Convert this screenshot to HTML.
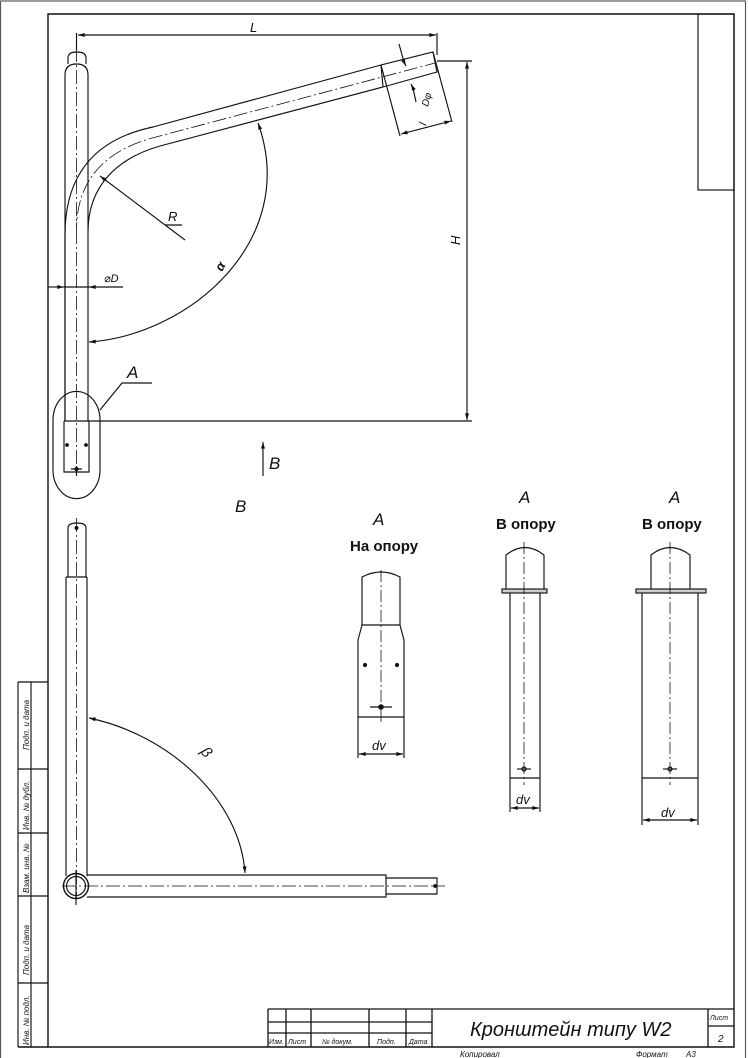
<!DOCTYPE html>
<html><head><meta charset="utf-8"><style>
html,body{margin:0;padding:0;background:#fff}
svg{display:block}
text{font-family:"Liberation Sans","DejaVu Sans",sans-serif;fill:#111}
.it{font-style:italic}
</style></head><body>
<svg width="748" height="1058" viewBox="0 0 748 1058" xmlns="http://www.w3.org/2000/svg">
<defs>
<marker id="ar" viewBox="0 0 10 6" refX="10" refY="3" markerWidth="10" markerHeight="4" orient="auto-start-reverse" markerUnits="userSpaceOnUse"><path d="M0,0 L10,3 L0,6 z" fill="#111"/></marker>
</defs>
<g fill="none" stroke="#111" stroke-width="1.15">
<rect x="0.5" y="1" width="745" height="1060" stroke="#555"/>
<path d="M48,14 H734 V1047 H48 Z" stroke-width="1.4"/>
<path d="M18,1047 H48" stroke-width="1.4"/>
<rect x="698" y="14" width="36" height="176"/>
<path d="M18,682 H48 M18,682 V1047 M31,682 V1047 M18,769 H48 M18,833 H48 M18,896 H48 M18,983 H48"/>
<path d="M268,1009 H734 M268,1009 V1047 M268,1022 H432 M268,1033 H432 M286,1009 V1047 M311,1009 V1047 M369,1009 V1047 M406,1009 V1047 M432,1009 V1047 M708,1009 V1047 M708,1026 H734" stroke-width="1.3"/>

<path d="M65,421 V235 C65,170 100,138 153,127 L381,65"/>
<path d="M88,421 V232 C88,185 118,158 160,146 L383,87"/>
<path d="M65,421 V75 Q65,64 76.5,64 Q88,64 88,75 V230"/>
<path d="M68,64 V58 Q68,52 77,52 Q86,52 86,58 V64"/>
<path d="M76.5,48 V230 C76.5,180 105,150 156,137 L435,63" stroke-dasharray="14,3,2,3" stroke-width="0.8"/>
<path d="M76.5,230 V470" stroke-dasharray="14,3,2,3" stroke-width="0.8"/>
<path d="M381,65 L433,52 L437,72 L383,87 M381,65 L383,87"/>
<path d="M64,421 H89 M64,421 L64,472 H89 V421 M76.5,466 v10 M71,469 h11"/>
<circle cx="67" cy="445" r="1.3" fill="#111"/><circle cx="86" cy="445" r="1.3" fill="#111"/><circle cx="76.5" cy="469" r="1.6" fill="#111"/>
<path d="M53,420 A23,28 0 0 1 100,420 V470 A23,28 0 0 1 53,470 Z"/>
<path d="M100,410 L122,383 H152"/>
<path d="M78,35 H436" marker-start="url(#ar)" marker-end="url(#ar)"/>
<path d="M76.5,33 V50 M437,33 V55"/>
<path d="M437,61 H472 M89,421 H472"/>
<path d="M467,62 V420" marker-start="url(#ar)" marker-end="url(#ar)"/>
<path d="M381,65 L400,136 M433,52 L452,122"/>
<path d="M401,134 L451,121" marker-start="url(#ar)" marker-end="url(#ar)"/>
<path d="M399,44 L404,62 M413,88 L416,102"/>
<path d="M404,62 L406,66" marker-end="url(#ar)"/>
<path d="M413,88 L411,84" marker-end="url(#ar)"/>
<path d="M185,240 L100,176" marker-end="url(#ar)"/>
<path d="M165,225 H182"/>
<path d="M258,123 C300,240 190,335 89,342" marker-start="url(#ar)" marker-end="url(#ar)"/>
<path d="M48,287 H64" marker-end="url(#ar)"/>
<path d="M123,287 H89" marker-end="url(#ar)"/>
<path d="M64,287 H89"/>
<path d="M263,476 V442" marker-end="url(#ar)"/>

<path d="M68,577 V528 Q68,523 77,523 Q86,523 86,528 V577"/>
<path d="M66,577 H87 M66,577 V876 M87,577 V876"/>
<path d="M76.5,518 V898" stroke-dasharray="14,3,2,3" stroke-width="0.8"/>
<circle cx="76.5" cy="528" r="1.4" fill="#111"/>
<circle cx="76" cy="886" r="12.5" stroke-width="1.4"/>
<circle cx="76" cy="886" r="9.5"/>
<path d="M87,875 H386 V897 H87 M386,878 H437 V894 H386"/>
<path d="M62,886 H445" stroke-dasharray="14,3,2,3" stroke-width="0.8"/>
<path d="M76,870 V905"/>
<circle cx="435" cy="886" r="1.3" fill="#111"/>
<path d="M89,718 C170,735 240,800 245,873" marker-start="url(#ar)" marker-end="url(#ar)"/>

<path d="M362,625 V577 Q381,567 400,577 V625 M362,625 H400 M362,625 L358,640 V717 H404 V640 L400,625"/>
<path d="M381,570 V722" stroke-dasharray="12,3,2,3" stroke-width="0.8"/>
<path d="M370,707 H392"/>
<circle cx="365" cy="665" r="1.5" fill="#111"/><circle cx="397" cy="665" r="1.5" fill="#111"/><circle cx="381" cy="707" r="2.2" fill="#111"/>
<path d="M358,717 V758 M404,717 V758"/>
<path d="M359,754 H403" marker-start="url(#ar)" marker-end="url(#ar)"/>

<path d="M506,589 V555 Q525,540 544,555 V589"/>
<rect x="502" y="589" width="45" height="4" fill="#ccc"/>
<path d="M510,593 V778 H540 V593 M510,778 V812 M540,778 V812"/>
<path d="M524,542 V785" stroke-dasharray="12,3,2,3" stroke-width="0.8"/>
<path d="M517,769 H531"/><circle cx="524" cy="769" r="2"/>
<path d="M511,808 H539" marker-start="url(#ar)" marker-end="url(#ar)"/>

<path d="M651,589 V555 Q670,540 690,555 V589"/>
<rect x="636" y="589" width="70" height="4" fill="#ccc"/>
<path d="M642,593 V778 H698 V593 M642,778 V825 M698,778 V825"/>
<path d="M670,542 V785" stroke-dasharray="12,3,2,3" stroke-width="0.8"/>
<path d="M663,769 H677"/><circle cx="670" cy="769" r="2"/>
<path d="M643,820 H697" marker-start="url(#ar)" marker-end="url(#ar)"/>
</g>

<g class="it" font-size="13">
<text x="250" y="32" class="it">L</text>
<text x="168" y="221" class="it">R</text>
<text x="104" y="282" class="it" font-size="11">⌀D</text>
<text transform="translate(460,245) rotate(-90)" class="it">H</text>
<text transform="translate(222,272) rotate(-60)" class="it" font-weight="bold">α</text>
<text transform="translate(426,126) rotate(-75)" class="it" font-size="11">l</text>
<text transform="translate(428,107) rotate(-75)" class="it" font-size="10">Dφ</text>
<text x="127" y="378" class="it" font-size="17">A</text>
<text x="269" y="469" class="it" font-size="17">B</text>
<text x="235" y="512" class="it" font-size="17">B</text>
<text transform="translate(200,752) rotate(50)" class="it" font-size="15">β</text>
<text x="373" y="525" class="it" font-size="17">A</text>
<text x="519" y="503" class="it" font-size="17">A</text>
<text x="669" y="503" class="it" font-size="17">A</text>
<text x="372" y="750" class="it">dv</text>
<text x="516" y="804" class="it">dv</text>
<text x="661" y="817" class="it">dv</text>
</g>
<g font-size="15" font-weight="bold">
<text x="350" y="551">На опору</text>
<text x="496" y="529">В опору</text>
<text x="642" y="529">В опору</text>
</g>
<g class="it" font-size="7" fill="#222">
<text x="269" y="1044" class="it">Изм.</text>
<text x="288" y="1044" class="it">Лист</text>
<text x="322" y="1044" class="it">№ докум.</text>
<text x="377" y="1044" class="it">Подп.</text>
<text x="409" y="1044" class="it">Дата</text>
<text x="710" y="1020" class="it">Лист</text>
<text x="718" y="1042" class="it" font-size="10">2</text>
<text x="460" y="1057" class="it" font-size="8">Копировал</text>
<text x="636" y="1057" class="it" font-size="8">Формат</text>
<text x="686" y="1057" class="it" font-size="8">A3</text>
</g>
<text x="470" y="1036" class="it" font-size="20">Кронштейн типу W2</text>
<g class="it" font-size="8">
<text transform="translate(29,750) rotate(-90)" class="it">Подп. и дата</text>
<text transform="translate(29,830) rotate(-90)" class="it">Инв. № дубл.</text>
<text transform="translate(29,893) rotate(-90)" class="it">Взам. инв. №</text>
<text transform="translate(29,975) rotate(-90)" class="it">Подп. и дата</text>
<text transform="translate(29,1045) rotate(-90)" class="it">Инв. № подл.</text>
</g>
</svg>
</body></html>
